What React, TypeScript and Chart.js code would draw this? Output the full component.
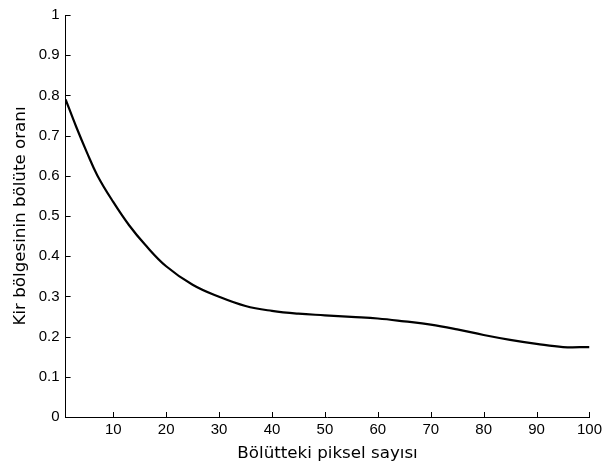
import React, { useEffect, useRef } from "react";
import { Chart, registerables } from "chart.js";

Chart.register(...registerables);

const pixelCounts = [1, 3, 5, 7, 10, 13, 16, 20, 25, 30, 35, 40, 45, 50, 55, 60, 65, 70, 75, 80, 85, 90, 95, 100];
const dirtRatios = [0.79, 0.722, 0.659, 0.601, 0.535, 0.477, 0.429, 0.375, 0.329, 0.299, 0.276, 0.264, 0.257, 0.253, 0.249, 0.245, 0.238, 0.23, 0.218, 0.204, 0.192, 0.182, 0.174, 0.174];
const xTickValues = [10, 20, 30, 40, 50, 60, 70, 80, 90, 100];
const xTitle = "Bölütteki piksel sayısı";
const yTitle = "Kir bölgesinin bölüte oranı";

const TITLE_FONT = "'DejaVu Sans', sans-serif";
const TICK_FONT = "'Liberation Sans', Arial, sans-serif";

const inwardTicks = {
  id: "inwardTicks",
  afterDraw(chart: any) {
    const ctx = chart.ctx;
    const xs = chart.scales.x;
    const ys = chart.scales.y;
    const len = 5;
    ctx.save();
    ctx.strokeStyle = "#000";
    ctx.lineWidth = 1;
    ctx.beginPath();
    xs.ticks.forEach((t: any) => {
      const px = Math.round(xs.getPixelForValue(t.value)) + 0.5;
      ctx.moveTo(px, ys.bottom);
      ctx.lineTo(px, ys.bottom - len);
    });
    ys.ticks.forEach((t: any) => {
      const py = Math.round(ys.getPixelForValue(t.value)) + 0.5;
      ctx.moveTo(xs.left, py);
      ctx.lineTo(xs.left + len, py);
    });
    ctx.stroke();
    ctx.restore();
  },
};

export default function App() {
  const ref = useRef<HTMLCanvasElement | null>(null);

  useEffect(() => {
    document.body.style.margin = "0";
    const canvas = ref.current;
    if (!canvas) return;
    const chart = new Chart(canvas, {
      type: "line",
      data: {
        datasets: [
          {
            data: pixelCounts.map((x, i) => ({ x, y: dirtRatios[i] })),
            borderColor: "#000",
            borderWidth: 2.2,
            pointRadius: 0,
            tension: 0.4,
            fill: false,
          },
        ],
      },
      options: {
        responsive: false,
        animation: false,
        layout: { padding: { top: 10, right: 14, left: 0, bottom: 0 } },
        plugins: { legend: { display: false }, tooltip: { enabled: false } },
        scales: {
          x: {
            type: "linear",
            min: 1,
            max: 100,
            afterBuildTicks: (scale: any) => {
              scale.ticks = xTickValues.map((v) => ({ value: v }));
            },
            afterFit: (scale: any) => {
              scale.height = 53;
            },
            grid: { drawOnChartArea: false, drawTicks: false },
            border: { display: true, color: "#000", width: 1 },
            ticks: {
              color: "#000",
              font: { family: TICK_FONT, size: 15 },
              padding: 4,
              maxRotation: 0,
              autoSkip: false,
              callback: (v: any) => String(v),
            },
            title: {
              display: true,
              text: xTitle,
              color: "#000",
              font: { family: TITLE_FONT, size: 16.7 },
              padding: { top: 0, bottom: 6 },
            },
          },
          y: {
            min: 0,
            max: 1,
            afterFit: (scale: any) => {
              scale.width = 65.6;
            },
            grid: { drawOnChartArea: false, drawTicks: false },
            border: { display: true, color: "#000", width: 1 },
            ticks: {
              stepSize: 0.1,
              color: "#000",
              font: { family: TICK_FONT, size: 15 },
              padding: 6,
              callback: (v: any) => String(Number(Number(v).toFixed(1))),
            },
            title: {
              display: true,
              text: yTitle,
              color: "#000",
              font: { family: TITLE_FONT, size: 16.7 },
              padding: { top: 11, bottom: 0 },
            },
          },
        },
      },
      plugins: [inwardTicks],
    } as any);
    return () => chart.destroy();
  }, []);

  return (
    <div style={{ position: "fixed", left: 0, top: 0, width: 606, height: 470, background: "#fff" }}>
      <canvas ref={ref} width={606} height={470} />
    </div>
  );
}
